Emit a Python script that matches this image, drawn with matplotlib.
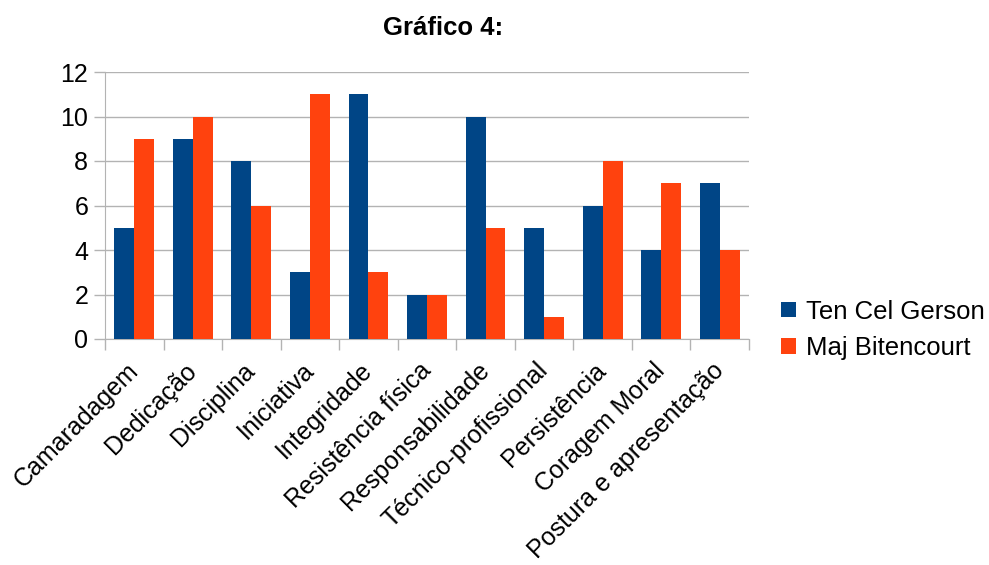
import numpy as np
import matplotlib.pyplot as plt

plt.rcParams['font.family'] = ['Liberation Sans', 'DejaVu Sans']

categorias = ['Camaradagem', 'Dedicação', 'Disciplina', 'Iniciativa', 'Integridade',
              'Resistência física', 'Responsabilidade', 'Técnico-profissional',
              'Persistência', 'Coragem Moral', 'Postura e apresentação']
gerson = [5, 9, 8, 3, 11, 2, 10, 5, 6, 4, 7]
bitencourt = [9, 10, 6, 11, 3, 2, 5, 1, 8, 7, 4]

fig = plt.figure(figsize=(9.89, 5.65), dpi=100)
ax = fig.add_axes([105/989, 1 - 339/565, 644/989, (339 - 72)/565])

x = np.arange(len(categorias))
w = 0.34
ax.bar(x - w/2, gerson, w, color='#004586', label='Ten Cel Gerson', zorder=3)
ax.bar(x + w/2, bitencourt, w, color='#ff420e', label='Maj Bitencourt', zorder=3)

ax.set_xlim(-0.5, len(categorias) - 0.5)
ax.set_ylim(0, 12)
ax.set_yticks(range(0, 13, 2))
ax.yaxis.grid(True, color='#b3b3b3', linewidth=1, zorder=0)

# marcas do eixo x nas divisas das categorias
ax.set_xticks(np.arange(-0.5, len(categorias)), minor=False)
ax.set_xticklabels([])
ax.set_xticks(x, minor=True)
ax.set_xticklabels(categorias, minor=True, rotation=45, ha='right', va='center',
                   rotation_mode='anchor', fontsize=18)
ax.tick_params(axis='x', which='minor', length=0, pad=20)
ax.tick_params(axis='x', which='major', length=8, color='#b3b3b3', width=1)
ax.tick_params(axis='y', length=8, color='#b3b3b3', width=1, labelsize=18, pad=4)

for s in ['top', 'right']:
    ax.spines[s].set_visible(False)
for s in ['left', 'bottom']:
    ax.spines[s].set_color('#b3b3b3')

fig.text(443/989, 1 - 28/565, 'Gráfico 4:', fontsize=18.5, fontweight='bold',
         ha='center', va='center')

fig.legend(loc='center left', bbox_to_anchor=(758/989, 1 - 330/565), frameon=False,
           fontsize=18.5, handlelength=0.58, handleheight=0.58, handletextpad=0.4,
           labelspacing=0.5)

fig.savefig('out.png', dpi=100)
